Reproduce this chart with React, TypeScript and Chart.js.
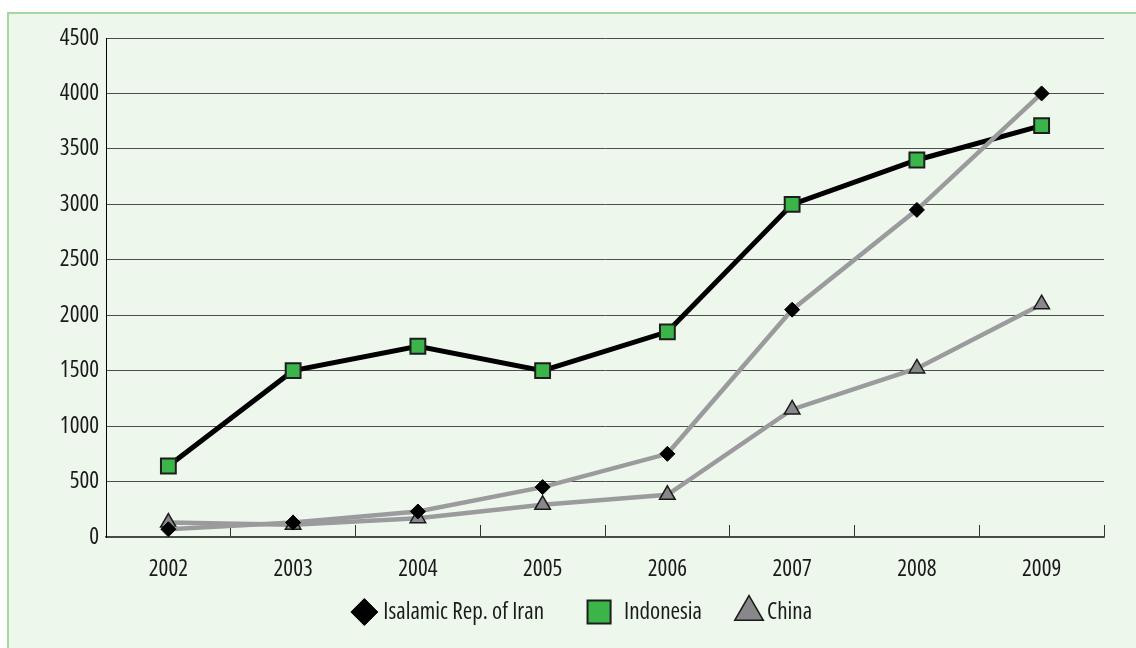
import React, { useEffect, useRef } from "react";
import { Chart, registerables } from "chart.js";
import { drawPoint } from "chart.js/helpers";

Chart.register(...registerables);

// ---- Data ----
const years = ["2002", "2003", "2004", "2005", "2006", "2007", "2008", "2009"];
const iranValues = [70, 130, 230, 450, 750, 2050, 2950, 4000];
const indonesiaValues = [640, 1500, 1720, 1500, 1850, 3000, 3400, 3710];
const chinaValues = [130, 110, 170, 290, 380, 1150, 1520, 2100];
const seriesNames = ["Isalamic Rep. of Iran", "Indonesia", "China"];
const yMin = 0;
const yMax = 4500;
const yStep = 500;

// ---- Styles ----
const FAMILY = "'Open Sans', 'DejaVu Sans Condensed', sans-serif";
const STRETCH = "condensed"; // injected through the weight slot of the font string
const FONT_SIZE = 23;
const TEXT = "#1a1a1a";

const lineColors = ["#9B9B9D", "#000000", "#9B9B9D"];
const lineWidths = [4.5, 5, 4.5];
const pointStyles = ["rectRot", "rect", "triangle"];
const pointRadii = [7.5, 10.5, 9];
const legendRadii = [13.5, 16.3, 16.5];
const legendMarkerToText = [19, 25, 18];
const legendTextToNext = [55, 47, 0];
const markerFill = ["#000000", "#3BB44A", "#88888B"];
const markerStroke = ["#000000", "#1e1e1e", "#1a1a1a"];
const markerStrokeWidth = [1, 2, 1.5];

const legendPlugin = {
  id: "bottomLegend",
  afterDraw(chart: any) {
    const ctx: CanvasRenderingContext2D = chart.ctx;
    const cx = 581.5;
    const cy = 612;
    ctx.save();
    ctx.font = `${STRETCH} ${FONT_SIZE}px ${FAMILY}`;
    const items = chart.data.datasets.map((ds: any, i: number) => ({
      text: ds.label as string,
      w: ctx.measureText(ds.label).width,
      i,
    }));
    let total = legendRadii[0];
    items.forEach((it: any, k: number) => {
      total += legendMarkerToText[k] + it.w + (k < items.length - 1 ? legendTextToNext[k] : 0);
    });
    let x = cx - total / 2 + legendRadii[0];
    items.forEach((it: any, k: number) => {
      const i = it.i;
      ctx.fillStyle = markerFill[i];
      ctx.strokeStyle = markerStroke[i];
      ctx.lineWidth = markerStrokeWidth[i];
      drawPoint(
        ctx,
        { pointStyle: pointStyles[i], rotation: 0, radius: legendRadii[i], borderWidth: markerStrokeWidth[i] } as any,
        x,
        cy
      );
      ctx.fillStyle = TEXT;
      ctx.textAlign = "left";
      ctx.textBaseline = "middle";
      ctx.fillText(it.text, x + legendMarkerToText[k], cy);
      x += legendMarkerToText[k] + it.w + legendTextToNext[k];
    });
    ctx.restore();
  },
};

function makeDataset(i: number, data: number[]) {
  return {
    label: seriesNames[i],
    data,
    borderColor: lineColors[i],
    borderWidth: lineWidths[i],
    backgroundColor: markerFill[i],
    pointStyle: pointStyles[i],
    pointRadius: pointRadii[i],
    pointBackgroundColor: markerFill[i],
    pointBorderColor: markerStroke[i],
    pointBorderWidth: markerStrokeWidth[i],
    tension: 0,
  };
}

export default function App() {
  const ref = useRef<HTMLCanvasElement | null>(null);

  useEffect(() => {
    if (!ref.current) return;
    const tickFont = { family: FAMILY, size: FONT_SIZE, weight: STRETCH };
    const chart = new Chart(ref.current, {
      type: "line",
      data: {
        labels: years,
        datasets: [
          makeDataset(0, iranValues),
          makeDataset(1, indonesiaValues),
          makeDataset(2, chinaValues),
        ],
      },
      options: {
        responsive: false,
        animation: false,
        events: [],
        layout: { padding: { left: 0, right: 32, top: 38, bottom: 51 } },
        plugins: {
          tooltip: { enabled: false },
          title: { display: false },
          legend: { display: false },
        },
        scales: {
          x: {
            type: "category",
            offset: true,
            grid: {
              offset: true,
              drawOnChartArea: false,
              drawTicks: true,
              tickLength: -12,
              color: "#333333",
              lineWidth: 1,
            },
            border: { display: true, color: "#4a4a4a", width: 1.5 },
            ticks: {
              color: TEXT,
              font: tickFont,
              padding: 31,
              maxRotation: 0,
              autoSkip: false,
            },
            afterFit: (s: any) => {
              s.height = 60;
            },
          },
          y: {
            min: yMin,
            max: yMax,
            grid: {
              drawTicks: false,
              color: "#4d4d4d",
              lineWidth: 1,
            },
            border: { display: true, color: "#000000", width: 1 },
            ticks: {
              stepSize: yStep,
              color: TEXT,
              font: tickFont,
              padding: 7,
              callback: (v: any) => String(v),
            },
            afterFit: (s: any) => {
              s.width = 106;
            },
          },
        },
      },
      plugins: [legendPlugin],
    } as any);
    return () => chart.destroy();
  }, []);

  return (
    <div
      style={{
        position: "fixed",
        left: 0,
        top: 0,
        width: 1136,
        height: 648,
        background: "#ffffff",
        overflow: "hidden",
      }}
    >
      <div
        style={{
          position: "absolute",
          left: 7,
          top: 12,
          width: 1200,
          height: 700,
          background: "#EEF7EC",
          border: "2px solid #A3D99E",
          boxSizing: "border-box",
        }}
      />
      <canvas
        ref={ref}
        width={1136}
        height={648}
        style={{ position: "absolute", left: 0, top: 0 }}
      />
    </div>
  );
}
